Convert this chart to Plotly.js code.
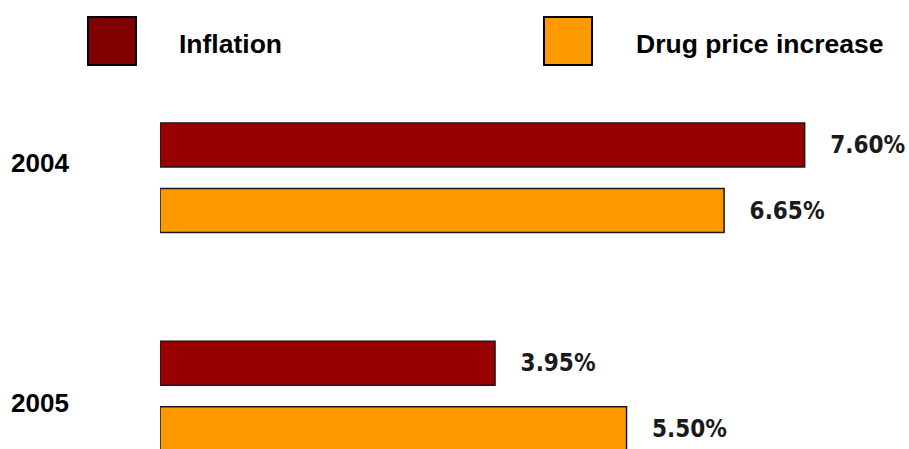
<!DOCTYPE html>
<html>
<head>
<meta charset="utf-8">
<script src="https://cdn.plot.ly/plotly-3.0.1.min.js"></script>
<style>html,body{margin:0;padding:0;background:#fff;}#chart{width:909px;height:449px;}</style>
</head>
<body>
<div id="chart"></div>
<script>
// ---- data ----
const years = ['2004', '2005'];
const inflation = [7.60, 3.95];
const drugPriceIncrease = [6.65, 5.50];
const seriesNames = ['Inflation', 'Drug price increase'];

// ---- styles ----
const W = 909, H = 449, ML = 160;
const barColors = ['#990000', '#FF9900'];
const legendColors = ['#800000', '#FF9900'];
const yearLabelShift = [15, -7];
const fx = px => (px - ML) / (W - ML);
const fy = py => 1 - py / H;

const valueFont = {family: 'DejaVu Sans Condensed, Liberation Sans, Arial, sans-serif', size: 24, color: '#1a1a1a', weight: 'bold'};
const yearFont = {family: 'Liberation Sans, Arial, sans-serif', size: 26, color: '#000000', weight: 'bold'};
const legendFont = {family: 'Liberation Sans, Arial, sans-serif', size: 26.5, color: '#000000', weight: 'bold'};

function barTrace(name, vals, color) {
  return {
    type: 'bar', orientation: 'h', name: name,
    y: years, x: vals,
    marker: {color: color, line: {color: '#1a1a1a', width: 1.5}},
    texttemplate: '\u00a0\u00a0\u00a0%{x:.2f}%',
    textposition: 'outside',
    outsidetextfont: valueFont,
    constraintext: 'none',
    cliponaxis: false,
    hoverinfo: 'skip'
  };
}

const data = [
  barTrace(seriesNames[0], inflation, barColors[0]),
  barTrace(seriesNames[1], drugPriceIncrease, barColors[1])
];

const annotations = years.map((yr, i) => ({
  xref: 'paper', yref: 'y', x: fx(9), y: i, xanchor: 'left', yanchor: 'middle',
  yshift: yearLabelShift[i], text: yr, showarrow: false, font: yearFont
}));
const legendX = [[88, 136, 177], [544, 592, 634]];
seriesNames.forEach((nm, i) => {
  annotations.push({
    xref: 'paper', yref: 'paper', x: fx(legendX[i][2]), y: fy(44), xanchor: 'left', yanchor: 'middle',
    text: nm, showarrow: false, font: legendFont
  });
});
const shapes = seriesNames.map((nm, i) => ({
  type: 'rect', xref: 'paper', yref: 'paper',
  x0: fx(legendX[i][0]), x1: fx(legendX[i][1]), y0: fy(65), y1: fy(17),
  fillcolor: legendColors[i], line: {color: '#000000', width: 2}
}));

const layout = {
  width: W, height: H,
  margin: {l: ML, r: 0, t: 0, b: 0, pad: 0},
  paper_bgcolor: '#ffffff', plot_bgcolor: '#ffffff',
  showlegend: false,
  barmode: 'group', bargap: 0.3998, bargroupgap: 0.328,
  xaxis: {range: [0, 8.83], showgrid: false, zeroline: false, showticklabels: false, showline: false, ticks: ''},
  yaxis: {type: 'category', range: [1.2428, -0.8144], showgrid: false, zeroline: false, showticklabels: false, showline: false, ticks: ''},
  annotations: annotations,
  shapes: shapes
};

Plotly.newPlot('chart', data, layout, {staticPlot: true, displayModeBar: false});
</script>
</body>
</html>
